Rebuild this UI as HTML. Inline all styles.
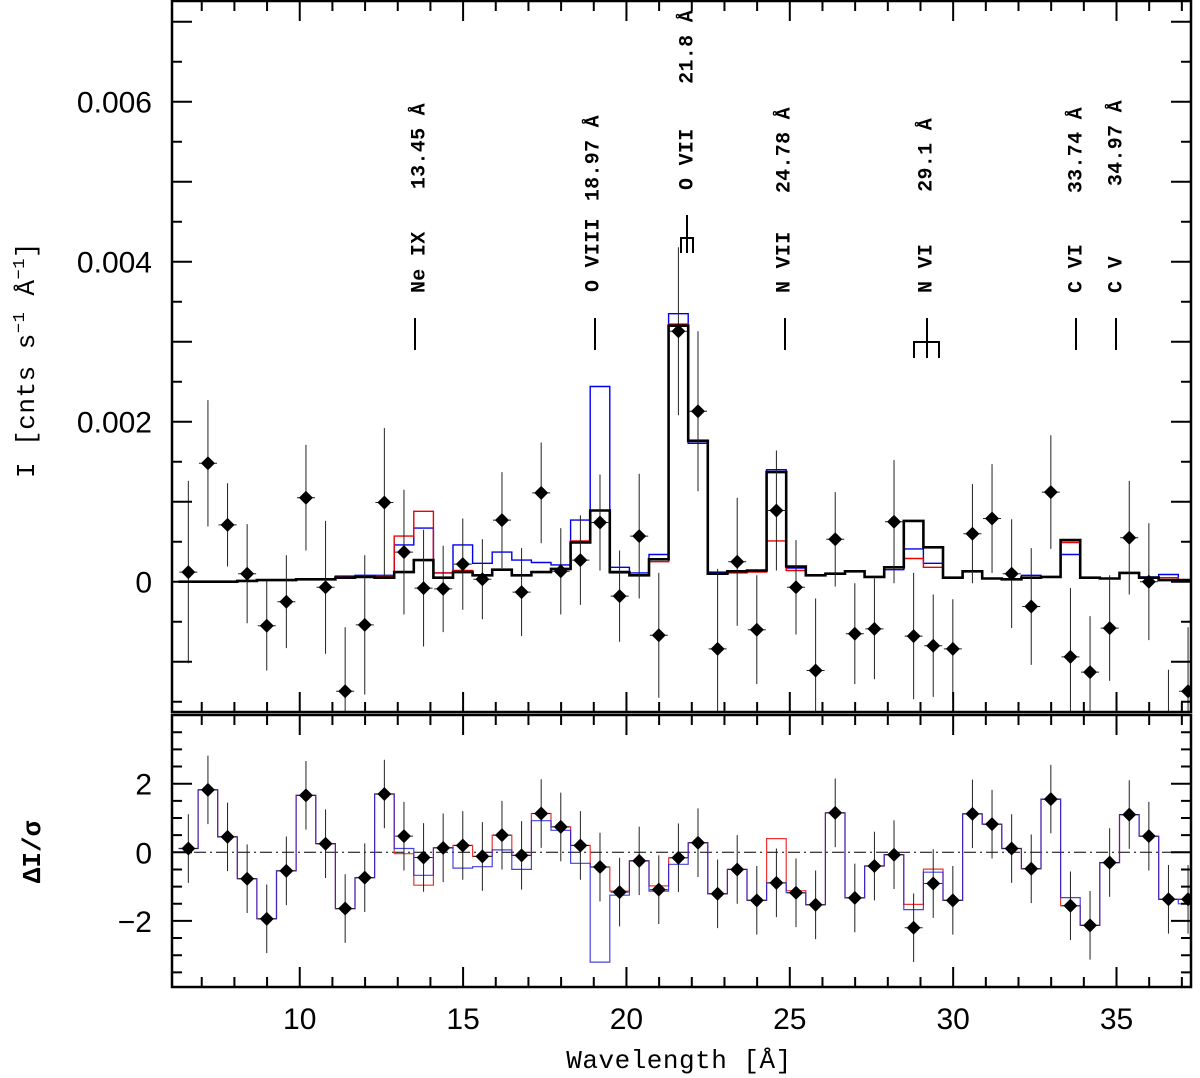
<!DOCTYPE html>
<html><head><meta charset="utf-8">
<style>
html,body{margin:0;padding:0;background:#fff;}
svg{display:block;}
.tl{font-family:"Liberation Sans",sans-serif;font-size:30px;fill:#000;}
.ann{font-family:"Liberation Mono",monospace;font-weight:bold;font-size:20px;letter-spacing:0.3px;fill:#000;}
.axl{font-family:"Liberation Mono",monospace;font-size:26px;fill:#000;}
</style></head>
<body>
<svg id="chart" width="1200" height="1078" viewBox="0 0 1200 1078" xmlns="http://www.w3.org/2000/svg"></svg>
<script>
const wavelengths=[6.59,7.19,7.79,8.39,8.99,9.59,10.19,10.79,11.39,11.99,12.59,13.19,13.79,14.39,14.99,15.59,16.19,16.79,17.39,17.99,18.59,19.19,19.79,20.39,20.99,21.59,22.19,22.79,23.39,23.99,24.59,25.19,25.79,26.39,26.99,27.59,28.19,28.79,29.39,29.99,30.59,31.19,31.79,32.39,32.99,33.59,34.19,34.79,35.39,35.99,36.59,37.19];
const binWidth=0.6;
// intensities in units of 1e-3 cnts/s/A
const dataI=[0.12,1.48,0.71,0.10,-0.55,-0.25,1.05,-0.07,-1.37,-0.54,0.99,0.37,-0.08,-0.09,0.22,0.03,0.77,-0.13,1.11,0.13,0.27,0.74,-0.18,0.57,-0.67,3.13,2.13,-0.84,0.25,-0.60,0.89,-0.07,-1.11,0.53,-0.65,-0.59,0.75,-0.68,-0.80,-0.84,0.60,0.79,0.10,-0.31,1.12,-0.94,-1.13,-0.58,0.55,0.00,-1.90,-1.37];
const errI=[1.14,0.79,0.52,0.62,0.56,0.58,0.66,0.83,0.80,0.87,0.93,0.78,0.73,0.54,0.57,0.50,0.60,0.55,0.63,0.54,0.56,0.60,0.57,0.78,0.78,1.05,1.00,1.00,0.80,0.68,0.75,0.59,0.90,0.59,0.63,0.63,0.77,0.79,0.64,0.62,0.62,0.68,0.68,0.73,0.71,0.86,0.70,0.66,0.71,0.73,0.80,0.80];
const modelBlack=[0,0,0,0.01,0.02,0.02,0.03,0.03,0.05,0.06,0.05,0.12,0.27,0.05,0.12,0.08,0.15,0.08,0.12,0.16,0.49,0.89,0.12,0.08,0.28,3.20,1.76,0.10,0.13,0.14,1.37,0.19,0.08,0.10,0.13,0.06,0.18,0.76,0.43,0.05,0.13,0.04,0.03,0.05,0.06,0.52,0.05,0.04,0.11,0.05,0.02,0.02];
const modelRed=[0,0,0,0.01,0.02,0.02,0.03,0.03,0.06,0.07,0.07,0.57,0.88,0.11,0.14,0.08,0.15,0.08,0.12,0.16,0.51,0.89,0.11,0.08,0.25,3.22,1.77,0.10,0.11,0.12,0.51,0.14,0.08,0.10,0.13,0.06,0.18,0.29,0.18,0.05,0.13,0.04,0.03,0.05,0.06,0.49,0.05,0.04,0.11,0.05,0.05,0.02];
const modelBlue=[0,0,0,0.01,0.02,0.02,0.03,0.03,0.07,0.08,0.08,0.46,0.67,0.11,0.46,0.23,0.37,0.27,0.24,0.21,0.77,2.44,0.18,0.11,0.34,3.35,1.73,0.12,0.13,0.14,1.40,0.17,0.08,0.10,0.13,0.06,0.15,0.41,0.23,0.05,0.13,0.04,0.03,0.08,0.06,0.34,0.05,0.04,0.11,0.06,0.09,0.02];
const resData=[0.11,1.82,0.45,-0.77,-1.94,-0.54,1.66,0.25,-1.64,-0.74,1.70,0.47,-0.15,0.13,0.20,-0.12,0.50,-0.09,1.13,0.74,0.20,-0.43,-1.16,-0.25,-1.09,-0.16,0.28,-1.21,-0.50,-1.40,-0.89,-1.18,-1.53,1.15,-1.33,-0.40,-0.07,-2.20,-0.91,-1.40,1.12,0.82,0.11,-0.48,1.55,-1.56,-2.13,-0.30,1.10,0.47,-1.37,-1.37];
const resErr=[1,1,1,1,1,1,1,1,1,1,1,1,1,1,1,1,1,1,1,1,1,1,1,1,1,1,1,1,1,1,1,1,1,1,1,1,1,1,1,1,1,1,1,1,1,1,1,1,1,1,1,1];
const resRed=[0.11,1.82,0.45,-0.77,-1.94,-0.54,1.66,0.25,-1.64,-0.74,1.70,-0.04,-0.96,0.13,0.20,-0.12,0.50,-0.09,1.13,0.74,0.20,-0.43,-1.13,-0.25,-0.98,-0.16,0.28,-1.21,-0.50,-1.40,0.40,-1.12,-1.53,1.15,-1.33,-0.40,-0.07,-1.52,-0.49,-1.40,1.12,0.82,0.11,-0.48,1.55,-1.56,-2.13,-0.30,1.10,0.47,-1.37,-1.37];
const resBlue=[0.11,1.82,0.45,-0.77,-1.94,-0.54,1.66,0.25,-1.64,-0.74,1.70,0.11,-0.67,0.13,-0.46,-0.42,0.07,-0.50,0.92,0.64,-0.32,-3.20,-1.25,-0.25,-1.13,-0.35,0.28,-1.21,-0.50,-1.40,-0.89,-1.18,-1.53,1.15,-1.33,-0.40,-0.07,-1.67,-0.58,-1.40,1.12,0.82,0.11,-0.48,1.55,-1.32,-2.13,-0.30,1.10,0.47,-1.37,-1.50];
const xTicks=[10,15,20,25,30,35];
const yTicksMain=[0,2,4,6];
const yTickLabelsMain=["0","0.002","0.004","0.006"];
const yTicksRes=[-2,0,2];
const yTickLabelsRes=["\u22122","0","2"];

const NS="http://www.w3.org/2000/svg";
const svg=document.getElementById('chart');
const L=172,R=1191,MT=1,MB=712,RT=715,RB=987;
const X0=6.09,X1=37.28;
function xs(v){return L+(v-X0)/(X1-X0)*(R-L);}
function ym(v){return 581.7-v*80;}
function yr(v){return 852.3-v*34.3;}
function el(tag,attrs,parent){const e=document.createElementNS(NS,tag);for(const k in attrs)e.setAttribute(k,attrs[k]);(parent||svg).appendChild(e);return e;}

const defs=el('defs',{});
const c1=el('clipPath',{id:'cm'},defs);el('rect',{x:L,y:MT,width:R-L,height:MB-MT},c1);
const c2=el('clipPath',{id:'cr'},defs);el('rect',{x:L,y:RT,width:R-L,height:RB-RT},c2);
const gM=el('g',{'clip-path':'url(#cm)'});


const gR=el('g',{'clip-path':'url(#cr)'});



function stepPath(vals,yf){
  let d='';
  for(let i=0;i<vals.length;i++){
    const x1=xs(wavelengths[i]-binWidth/2),x2=xs(wavelengths[i]+binWidth/2),y=yf(vals[i]);
    d+=(i===0?'M':'L')+x1.toFixed(1)+','+y.toFixed(1)+'L'+x2.toFixed(1)+','+y.toFixed(1);
  }
  return d;
}
function points(vals,errs,yf,g,name){
  for(let i=0;i<vals.length;i++){
    const cx=xs(wavelengths[i]),cy=yf(vals[i]);
    const eb=el('path',{d:'M'+cx+','+yf(vals[i]+errs[i])+'L'+cx+','+yf(vals[i]-errs[i])+'M'+(cx-9)+','+cy+'L'+(cx+9)+','+cy,stroke:'#222','stroke-width':1,fill:'none'},g);
    
    
    const dm=el('path',{d:'M'+cx+','+(cy-7)+'L'+(cx+7)+','+cy+'L'+cx+','+(cy+7)+'L'+(cx-7)+','+cy+'Z',fill:'#000'},g);
    
    
  }
}
const pb=el('path',{d:stepPath(modelBlue,ym),stroke:'#0000ee','stroke-width':1.4,fill:'none'},gM);


const pr=el('path',{d:stepPath(modelRed,ym),stroke:'#ee0000','stroke-width':1.4,fill:'none'},gM);


const pk=el('path',{d:stepPath(modelBlack,ym),stroke:'#000','stroke-width':2.6,fill:'none'},gM);


points(dataI,errI,ym,gM,'data');
const zl=el('line',{x1:L,x2:R,y1:yr(0),y2:yr(0),stroke:'#000','stroke-width':1,'stroke-dasharray':'12,4,2,4'},gR);


const rr=el('path',{d:stepPath(resRed,yr),stroke:'#ee3333','stroke-width':1.2,fill:'none'},gR);


const rb=el('path',{d:stepPath(resBlue,yr),stroke:'#2222dd','stroke-width':1.2,fill:'none','stroke-opacity':0.85},gR);


points(resData,resErr,yr,gR,'residual');

const f1=el('rect',{x:L,y:MT,width:R-L,height:MB-MT,fill:'none',stroke:'#000','stroke-width':2.5});


const f2=el('rect',{x:L,y:RT,width:R-L,height:RB-RT,fill:'none',stroke:'#000','stroke-width':2.5});



let td='';
for(let w=7;w<=37;w++){
  const x=xs(w),len=(w%5===0)?20:10;
  td+='M'+x+','+MB+'v'+(-len)+'M'+x+','+MT+'v'+len+'M'+x+','+RB+'v'+(-len)+'M'+x+','+RT+'v'+len;
}
for(let k=-3;k<=14;k++){
  const v=k*0.5,y=ym(v);if(y<MT||y>MB)continue;
  const len=(k%2===0)?20:10;
  td+='M'+L+','+y+'h'+len+'M'+R+','+y+'h'+(-len);
}
for(let k=-7;k<=7;k++){
  const v=k*0.5,y=yr(v);if(y<RT+2||y>RB-2)continue;
  const len=(k%4===0)?20:10;
  td+='M'+L+','+y+'h'+len+'M'+R+','+y+'h'+(-len);
}
const ticks=el('path',{d:td,stroke:'#000','stroke-width':2,fill:'none'});



for(let i=0;i<xTicks.length;i++){
  const t=el('text',{x:xs(xTicks[i]),y:1029,'text-anchor':'middle',class:'tl'});
  t.textContent=xTicks[i];
  
  
}
for(let i=0;i<yTicksMain.length;i++){
  const t=el('text',{x:152,y:ym(yTicksMain[i])+11,'text-anchor':'end',class:'tl'});
  t.textContent=yTickLabelsMain[i];
  
  
}
for(let i=0;i<yTicksRes.length;i++){
  const t=el('text',{x:152,y:yr(yTicksRes[i])+11,'text-anchor':'end',class:'tl'});
  t.textContent=yTickLabelsRes[i];
  
  
}
const xt=el('text',{x:679,y:1068,'text-anchor':'middle',class:'axl','letter-spacing':'0.5'});
xt.textContent='Wavelength [Å]';


const yt=el('text',{x:0,y:0,'text-anchor':'middle',class:'axl',transform:'translate(34,360) rotate(-90)','letter-spacing':'0.5'});
yt.innerHTML='I  [cnts s<tspan dy="-10" font-size="17">−1</tspan><tspan dy="10"> Å</tspan><tspan dy="-10" font-size="17">−1</tspan><tspan dy="10">]</tspan>';


const rt=el('text',{x:0,y:0,'text-anchor':'middle',class:'axl','font-weight':'bold',transform:'translate(40,852) rotate(-90)'});
rt.textContent='ΔI/σ';



const annSpecies=["Ne IX","O VIII","O VII","N VII","N VI","C VI","C V"];
const annWave=["13.45 Å","18.97 Å","21.8 Å","24.78 Å","29.1 Å","33.74 Å","34.97 Å"];
const annX=[420,594,688,785,927,1077,1117];
const annBottom=[293,292,190,293,293,293,293];
const annTop=[103,115,10,107,118,107,100];
for(let i=0;i<annSpecies.length;i++){
  const s=el('text',{x:0,y:0,class:'ann','dominant-baseline':'central',transform:'translate('+annX[i]+','+annBottom[i]+') rotate(-90)'});
  s.textContent=annSpecies[i];
  
  
  const w=el('text',{x:0,y:0,class:'ann','text-anchor':'end','dominant-baseline':'central',transform:'translate('+annX[i]+','+annTop[i]+') rotate(-90)'});
  w.textContent=annWave[i];
  
  
}
const mk=el('path',{d:'M415,318V350M595,318V350M785,318V350M1076,318V350M1116,318V350'+
 'M687,215V238M681,253V238H693V253M687,238V253'+
 'M927,318V342M914,358V342H939V358M927,342V358',stroke:'#000','stroke-width':2,fill:'none'});


</script>
</body></html>
